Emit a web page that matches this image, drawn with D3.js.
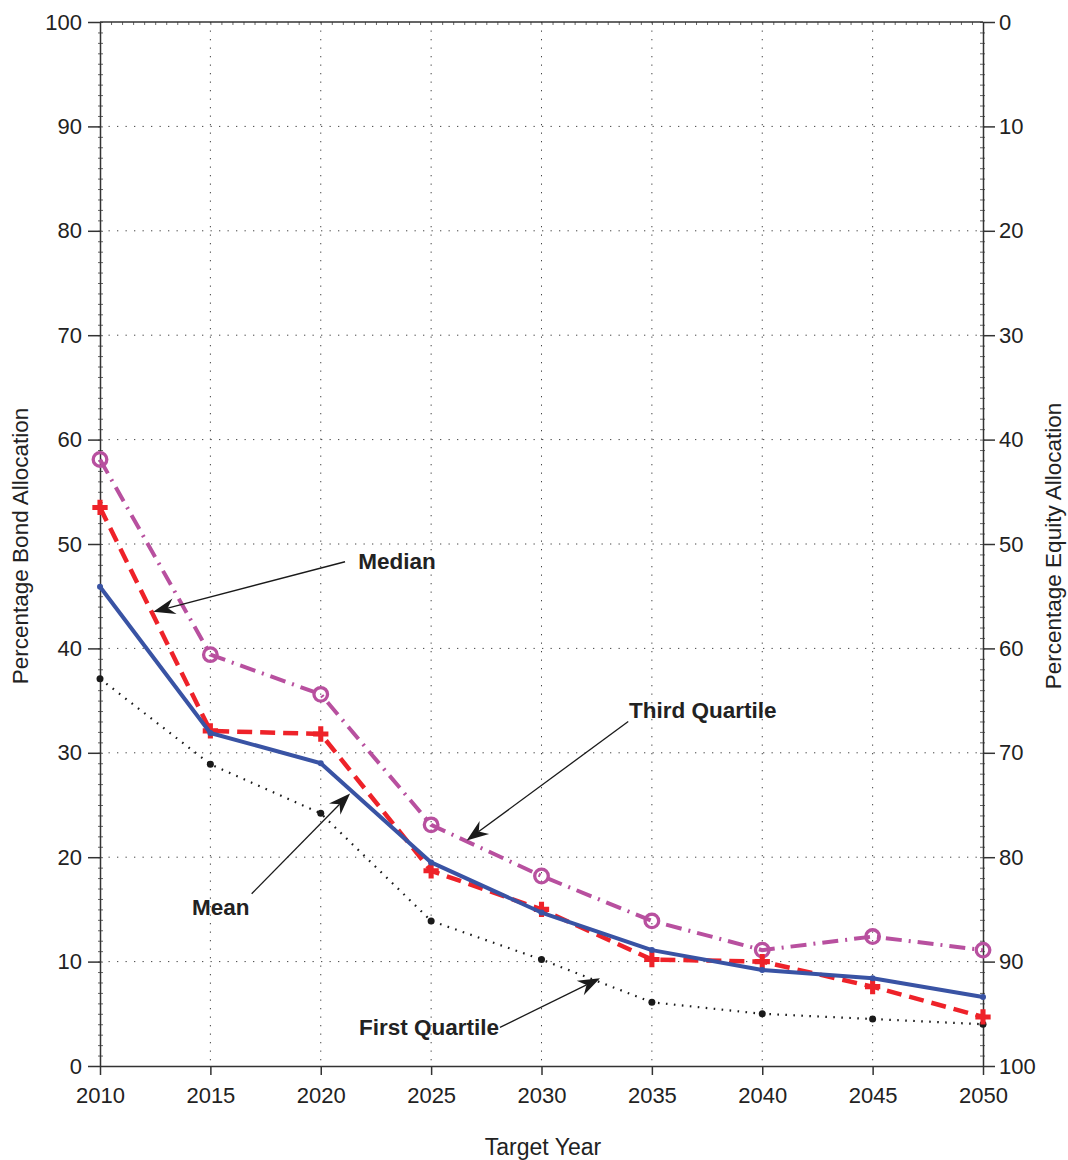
<!DOCTYPE html>
<html><head><meta charset="utf-8">
<script src="https://cdn.jsdelivr.net/npm/d3@7"></script>
<style>
html,body{margin:0;padding:0;background:#fff;}
svg text{font-family:"Liberation Sans",Arial,sans-serif;fill:#222;}
</style></head>
<body>
<svg id="chart" width="1068" height="1160"></svg>
<script>
// ---- data ----
const years = [2010, 2015, 2020, 2025, 2030, 2035, 2040, 2045, 2050];
const thirdQuartile = [58.1, 39.4, 35.6, 23.1, 18.2, 13.9, 11.1, 12.4, 11.1];
const median        = [53.5, 32.1, 31.8, 18.7, 15.0, 10.2, 10.0, 7.6, 4.7];
const mean          = [45.9, 31.9, 29.0, 19.5, 14.7, 11.1, 9.2, 8.4, 6.6];
const firstQuartile = [37.1, 28.9, 24.2, 13.9, 10.2, 6.1, 5.0, 4.5, 4.0];
const bondTicks = [0, 10, 20, 30, 40, 50, 60, 70, 80, 90, 100];
const equityTicks = [0, 10, 20, 30, 40, 50, 60, 70, 80, 90, 100];
const annotations = [
  {text: "Median", tx: 2021.7, ty: 47.6, anchor: "start", sx: 2021.1, sy: 48.3, ex: 2012.41, ey: 43.5},
  {text: "Third Quartile", tx: 2033.96, ty: 33.36, anchor: "start", sx: 2033.93, sy: 33.0, ex: 2026.61, ey: 21.6},
  {text: "Mean", tx: 2014.17, ty: 14.46, anchor: "start", sx: 2016.87, sy: 16.5, ex: 2021.33, ey: 26.1},
  {text: "First Quartile", tx: 2028.08, ty: 2.97, anchor: "end", sx: 2028.12, sy: 3.7, ex: 2032.65, ey: 8.4}
];

// ---- layout ----
const svg = d3.select("#chart");
const L = 100, R = 983, T = 22, B = 1066;
const x = d3.scaleLinear().domain([2010, 2050]).range([L, R]);
const y = d3.scaleLinear().domain([0, 100]).range([B, T]);
const y2 = d3.scaleLinear().domain([0, 100]).range([T, B]);
const axisColor = "#333";

// grid
const g = svg.append("g");
g.selectAll("line.hg").data(bondTicks.slice(1, -1)).join("line")
  .attr("x1", L).attr("x2", R).attr("y1", d => y(d)).attr("y2", d => y(d))
  .attr("stroke", "#444").attr("stroke-width", 1).attr("stroke-dasharray", "1.3,7.2");
g.selectAll("line.vg").data(years.slice(1, -1)).join("line")
  .attr("y1", T).attr("y2", B).attr("x1", d => x(d)).attr("x2", d => x(d))
  .attr("stroke", "#444").attr("stroke-width", 1).attr("stroke-dasharray", "1.3,7.2");

// axes
function styleAxis(sel){
  sel.select(".domain").attr("stroke", axisColor).attr("stroke-width", 1.5);
  sel.selectAll(".tick line").attr("stroke", axisColor).attr("stroke-width", 1.5);
  sel.selectAll(".tick text").attr("font-size", 22).attr("fill", "#222")
    .attr("font-family", "Liberation Sans, Arial, sans-serif");
}
// minor ticks
const minorY = d3.range(0, 100.01, 1);
const minorX = d3.range(2010, 2050.01, 0.5);
const minorStyle = s => { s.select(".domain").remove(); s.selectAll("line").attr("stroke", "#555").attr("stroke-width", 0.9); };
svg.append("g").attr("transform", `translate(${L},0)`)
  .call(d3.axisLeft(y).tickValues(minorY).tickSize(-3).tickFormat("")).call(minorStyle);
svg.append("g").attr("transform", `translate(${L},0)`)
  .call(d3.axisLeft(y).tickValues(minorY).tickSize(2).tickFormat("")).call(minorStyle);
svg.append("g").attr("transform", `translate(${R},0)`)
  .call(d3.axisRight(y2).tickValues(minorY).tickSize(-3).tickFormat("")).call(minorStyle);
svg.append("g").attr("transform", `translate(${R},0)`)
  .call(d3.axisRight(y2).tickValues(minorY).tickSize(2).tickFormat("")).call(minorStyle);
svg.append("g").attr("transform", `translate(0,${T})`)
  .call(d3.axisTop(x).tickValues(minorX).tickSize(-3).tickFormat("")).call(minorStyle);

const ax = svg.append("g").attr("transform", `translate(0,${B})`)
  .call(d3.axisBottom(x).tickValues(years).tickFormat(d3.format("d")).tickSize(9).tickSizeOuter(0).tickPadding(12));
styleAxis(ax);
const ayl = svg.append("g").attr("transform", `translate(${L},0)`)
  .call(d3.axisLeft(y).tickValues(bondTicks).tickSize(12).tickSizeOuter(0).tickPadding(6));
styleAxis(ayl);
const ayr = svg.append("g").attr("transform", `translate(${R},0)`)
  .call(d3.axisRight(y2).tickValues(equityTicks).tickSize(12).tickSizeOuter(0).tickPadding(4));
styleAxis(ayr);
svg.append("line").attr("x1", L).attr("x2", R).attr("y1", T).attr("y2", T)
  .attr("stroke", axisColor).attr("stroke-width", 1.5);

// axis titles
svg.append("text").attr("x", 543).attr("y", 1155).attr("text-anchor", "middle")
  .attr("font-size", 23).text("Target Year");
svg.append("text").attr("transform", `translate(28,${(T + B) / 2 + 2}) rotate(-90)`)
  .attr("text-anchor", "middle").attr("font-size", 22.5).text("Percentage Bond Allocation");
svg.append("text").attr("transform", `translate(1061,${(T + B) / 2 + 2}) rotate(-90)`)
  .attr("text-anchor", "middle").attr("font-size", 22.5).text("Percentage Equity Allocation");

// series
const line = d3.line().x(d => x(d[0])).y(d => y(d[1]));
const zip = vals => years.map((yr, i) => [yr, vals[i]]);

const q1 = zip(firstQuartile), q3 = zip(thirdQuartile), med = zip(median), mn = zip(mean);

svg.append("path").attr("d", line(q1)).attr("fill", "none").attr("stroke", "#1a1a1a")
  .attr("stroke-width", 2.2).attr("stroke-dasharray", "1.6,6.4");
svg.selectAll("circle.q1").data(q1).join("circle")
  .attr("cx", d => x(d[0])).attr("cy", d => y(d[1])).attr("r", 3.5).attr("fill", "#1a1a1a");

const magenta = "#b8509f";
svg.append("path").attr("d", line(q3)).attr("fill", "none").attr("stroke", magenta)
  .attr("stroke-width", 4).attr("stroke-dasharray", "16,7,2,7");
svg.selectAll("circle.q3").data(q3).join("circle")
  .attr("cx", d => x(d[0])).attr("cy", d => y(d[1])).attr("r", 6.8)
  .attr("fill", "none").attr("stroke", magenta).attr("stroke-width", 3.3);

const red = "#ee2229";
svg.append("path").attr("d", line(med)).attr("fill", "none").attr("stroke", red)
  .attr("stroke-width", 4.5).attr("stroke-dasharray", "15,8");
const plus = d3.symbol().type(d3.symbolCross).size(130);
svg.selectAll("path.med").data(med).join("path")
  .attr("d", plus).attr("transform", d => `translate(${x(d[0])},${y(d[1])})`).attr("fill", red);

const blue = "#3953a4";
svg.append("path").attr("d", line(mn)).attr("fill", "none").attr("stroke", blue)
  .attr("stroke-width", 4).attr("stroke-linejoin", "round");
svg.selectAll("circle.mn").data(mn).join("circle")
  .attr("cx", d => x(d[0])).attr("cy", d => y(d[1])).attr("r", 3).attr("fill", blue);

// annotations
const ann = svg.append("g");
annotations.forEach(a => {
  const sx = x(a.sx), sy = y(a.sy), ex = x(a.ex), ey = y(a.ey);
  const ang = Math.atan2(ey - sy, ex - sx);
  const len = 22, back = 15, half = 8;
  const p = (dx, dy) => [ex + dx * Math.cos(ang) - dy * Math.sin(ang), ey + dx * Math.sin(ang) + dy * Math.cos(ang)];
  const pts = [p(0, 0), p(-len, -half), p(-back, 0), p(-len, half)];
  ann.append("line").attr("x1", sx).attr("y1", sy)
    .attr("x2", p(-back, 0)[0]).attr("y2", p(-back, 0)[1])
    .attr("stroke", "#1a1a1a").attr("stroke-width", 1.3);
  ann.append("path").attr("d", "M" + pts.map(q => q.join(",")).join("L") + "Z").attr("fill", "#1a1a1a");
  ann.append("text").attr("x", x(a.tx)).attr("y", y(a.ty)).attr("text-anchor", a.anchor)
    .attr("font-size", 22.5).attr("font-weight", "bold").text(a.text);
});
</script>
</body></html>
